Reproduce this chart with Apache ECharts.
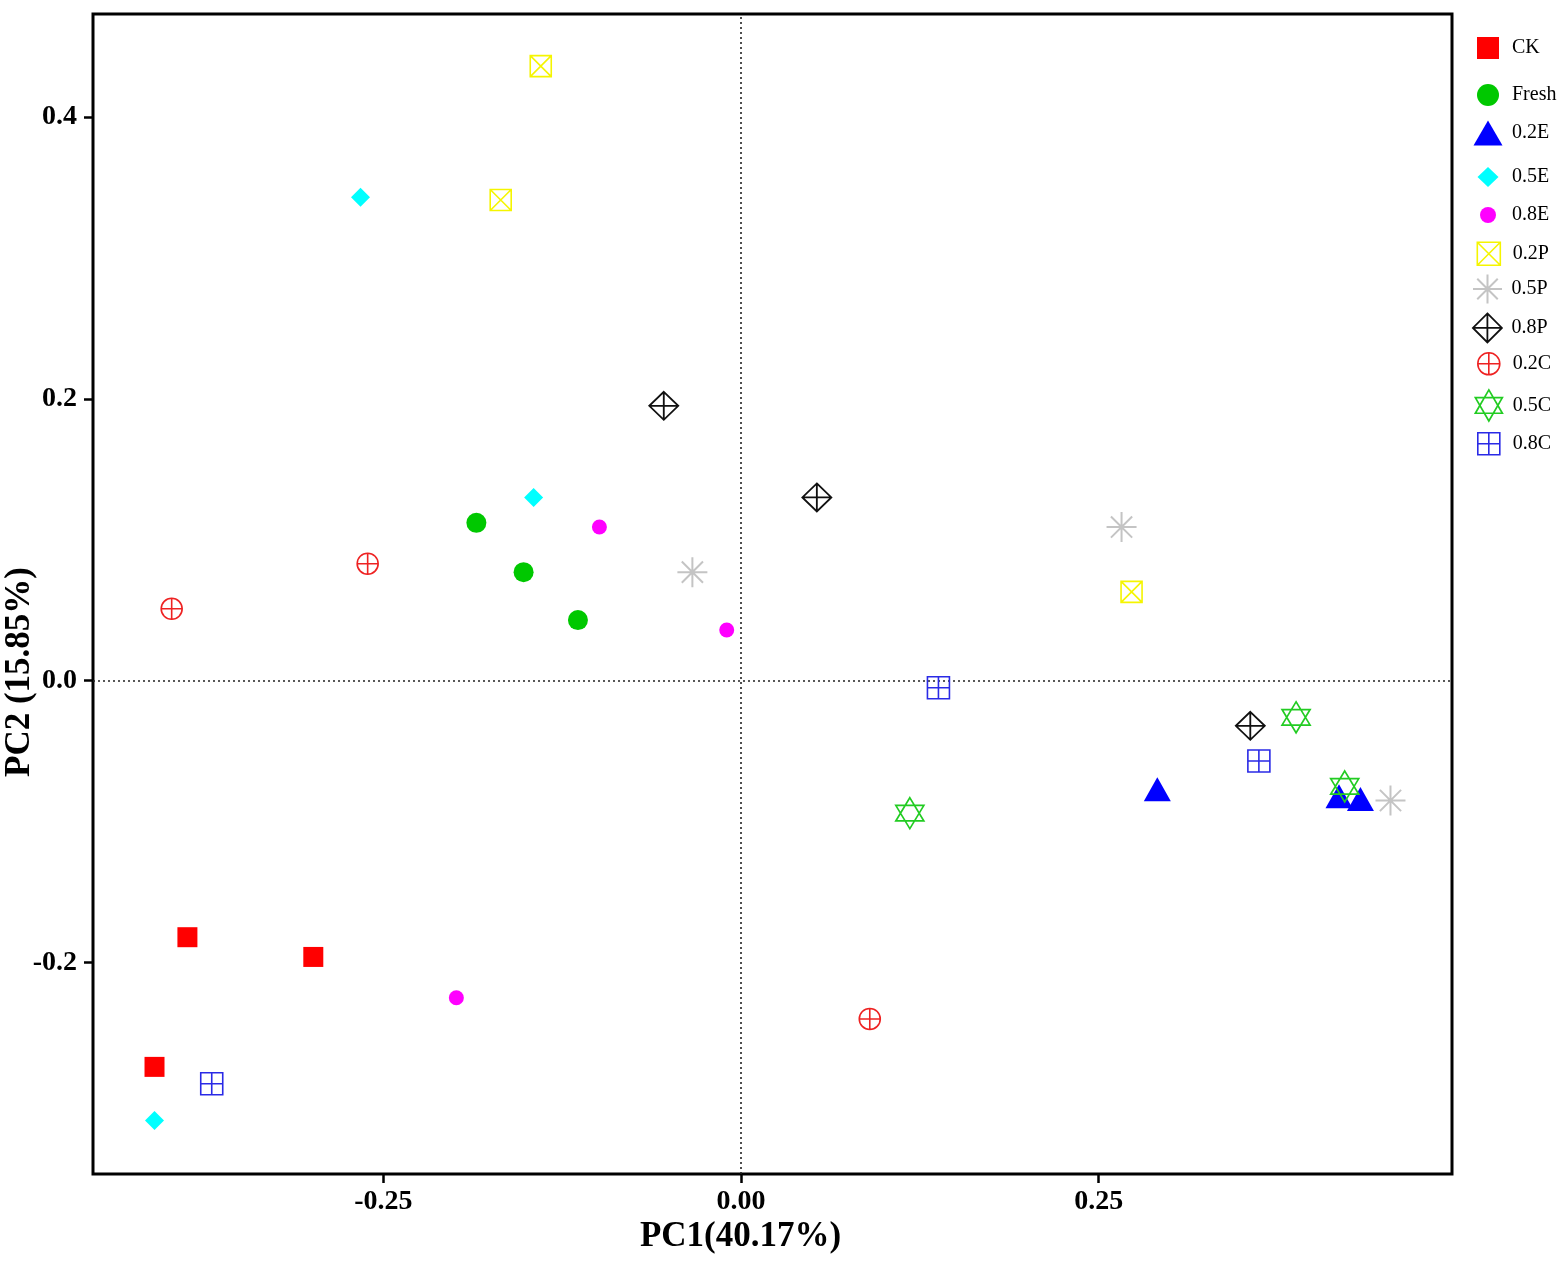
<!DOCTYPE html>
<html>
<head>
<meta charset="utf-8">
<title>PCA</title>
<script src="https://cdn.jsdelivr.net/npm/echarts@6/dist/echarts.min.js"></script>
<style>
  html, body { margin: 0; padding: 0; background: #fff; }
  #chart { width: 1559px; height: 1261px; }
</style>
</head>
<body>
<div id="chart"></div>
<script>
// ---- data (PC1, PC2) ----
const groupNames = ['CK', 'Fresh', '0.2E', '0.5E', '0.8E', '0.2P', '0.5P', '0.8P', '0.2C', '0.5C', '0.8C'];
const ckPts    = [[-0.387, -0.182], [-0.299, -0.196], [-0.410, -0.274]];
const freshPts = [[-0.185, 0.112], [-0.152, 0.077], [-0.114, 0.043]];
const e02Pts   = [[0.291, -0.077], [0.418, -0.082], [0.433, -0.084]];
const e05Pts   = [[-0.266, 0.343], [-0.145, 0.130], [-0.410, -0.312]];
const e08Pts   = [[-0.099, 0.109], [-0.010, 0.036], [-0.199, -0.225]];
const p02Pts   = [[-0.140, 0.436], [-0.168, 0.341], [0.273, 0.063]];
const p05Pts   = [[-0.034, 0.077], [0.266, 0.109], [0.454, -0.085]];
const p08Pts   = [[-0.054, 0.195], [0.053, 0.130], [0.356, -0.032]];
const c02Pts   = [[-0.261, 0.083], [-0.398, 0.051], [0.090, -0.240]];
const c05Pts   = [[0.118, -0.094], [0.388, -0.026], [0.422, -0.075]];
const c08Pts   = [[0.138, -0.005], [0.362, -0.057], [-0.370, -0.286]];
const groupData = [ckPts, freshPts, e02Pts, e05Pts, e08Pts, p02Pts, p05Pts, p08Pts, c02Pts, c05Pts, c08Pts];

const xTicks = [-0.25, 0, 0.25];
const yTicks = [-0.2, 0, 0.2, 0.4];

// ---- marker styles ----
const P = {
  boxX:    'path://M0,0L20,0L20,20L0,20Z M0,0L20,20 M20,0L0,20',
  star:    'path://M0,10L20,10 M10,0L10,20 M2.93,2.93L17.07,17.07 M17.07,2.93L2.93,17.07',
  diaPlus: 'path://M10,0L20,10L10,20L0,10Z M10,0L10,20 M0,10L20,10',
  cirPlus: 'path://M0,10A10,10,0,1,1,20,10A10,10,0,1,1,0,10Z M10,0L10,20 M0,10L20,10',
  hexa:    'path://M10,0L20,17.32L0,17.32Z M0,5.77L20,5.77L10,23.09Z',
  boxPlus: 'path://M0,0L20,0L20,20L0,20Z M10,0L10,20 M0,10L20,10'
};
const markers = [
  { symbol: 'rect',     size: [20, 20], lg: [22, 22], color: '#ff0000', filled: true },
  { symbol: 'circle',   size: [20, 20], lg: [22, 22], color: '#00c800', filled: true },
  { symbol: 'triangle', size: [27, 24], lg: [29, 25], color: '#0000ff', filled: true },
  { symbol: 'diamond',  size: [19, 19], lg: [21, 20], color: '#00ffff', filled: true },
  { symbol: 'circle',   size: [15, 15], lg: [16, 16], color: '#ff00ff', filled: true },
  { symbol: P.boxX,     size: [21, 21], lg: [23, 23], color: '#f5f500', filled: false, w: 1.6 },
  { symbol: P.star,     size: [30, 30], lg: [32, 29], color: '#c4c4c4', filled: false, w: 2 },
  { symbol: P.diaPlus,  size: [29, 28], lg: [32, 29], color: '#111111', filled: false, w: 1.8 },
  { symbol: P.cirPlus,  size: [21, 21], lg: [22, 22], color: '#ee2222', filled: false, w: 1.6 },
  { symbol: P.hexa,     size: [28, 31], lg: [27, 32], color: '#22cc22', filled: false, w: 1.7 },
  { symbol: P.boxPlus,  size: [22, 22], lg: [22, 22], color: '#2a2ae6', filled: false, w: 1.6 }
];
const legendY = [48, 95, 133, 177, 213, 253, 288, 327, 363, 405, 443];

const serif = "'Liberation Serif', 'Times New Roman', serif";

const series = groupNames.map((name, i) => {
  const m = markers[i];
  const s = {
    type: 'scatter',
    name: name,
    data: groupData[i],
    symbol: m.symbol,
    symbolSize: m.size,
    itemStyle: m.filled
      ? { color: m.color, opacity: 1 }
      : { color: 'rgba(0,0,0,0)', borderColor: m.color, borderWidth: m.w, opacity: 1 },
    emphasis: { disabled: true },
    z: 3
  };
  if (i === 0) {
    s.markLine = {
      silent: true,
      symbol: 'none',
      label: { show: false },
      lineStyle: { type: [2, 3], color: '#222', width: 1.6 },
      data: [{ xAxis: 0 }, { yAxis: 0 }],
      z: 1
    };
  }
  return s;
});

const legends = groupNames.map((name, i) => {
  const m = markers[i];
  const w = m.lg[0], h = m.lg[1];
  return {
    data: [name],
    orient: 'vertical',
    left: 1488 - w / 2,
    top: legendY[i] - h / 2,
    padding: 0,
    itemWidth: w,
    itemHeight: h,
    selectedMode: false,
    itemStyle: m.filled ? { borderWidth: 0 } : { borderWidth: m.w },
    textStyle: {
      fontFamily: serif, fontSize: 20, color: '#000',
      padding: [0, 0, 0, Math.max(0, 1512 - (1488 + w / 2 + 5))]
    }
  };
});

const chart = echarts.init(document.getElementById('chart'), null, { renderer: 'canvas' });
chart.setOption({
  animation: false,
  backgroundColor: '#fff',
  grid: {
    left: 93, right: 107, top: 14, bottom: 87,
    containLabel: false,
    outerBoundsMode: 'none',
    show: true, borderColor: '#000', borderWidth: 3, backgroundColor: 'transparent'
  },
  legend: legends,
  xAxis: {
    type: 'value',
    min: -0.453, max: 0.497,
    name: 'PC1(40.17%)',
    nameLocation: 'middle',
    nameGap: 45,
    nameMoveOverlap: false,
    nameTextStyle: {
      fontFamily: serif, fontSize: 35, fontWeight: 'bold', color: '#000',
      padding: [0, 64, 0, 0]
    },
    axisLine: { show: false, onZero: false },
    axisTick: { show: true, length: 9, customValues: xTicks, lineStyle: { color: '#000', width: 2.5 } },
    axisLabel: {
      customValues: xTicks, margin: 14,
      fontFamily: serif, fontSize: 28, fontWeight: 'bold', color: '#000',
      formatter: v => v.toFixed(2)
    },
    splitLine: { show: false }
  },
  yAxis: {
    type: 'value',
    min: -0.350, max: 0.473,
    name: 'PC2 (15.85%)',
    nameLocation: 'middle',
    nameGap: 56,
    nameMoveOverlap: false,
    nameTextStyle: {
      fontFamily: serif, fontSize: 35, fontWeight: 'bold', color: '#000',
      padding: [0, 156, 0, 0]
    },
    axisLine: { show: false, onZero: false },
    axisTick: { show: true, length: 9, customValues: yTicks, lineStyle: { color: '#000', width: 2.5 } },
    axisLabel: {
      customValues: yTicks, margin: 16,
      fontFamily: serif, fontSize: 28, fontWeight: 'bold', color: '#000',
      formatter: v => v.toFixed(1)
    },
    splitLine: { show: false }
  },
  series: series
});
</script>
</body>
</html>
